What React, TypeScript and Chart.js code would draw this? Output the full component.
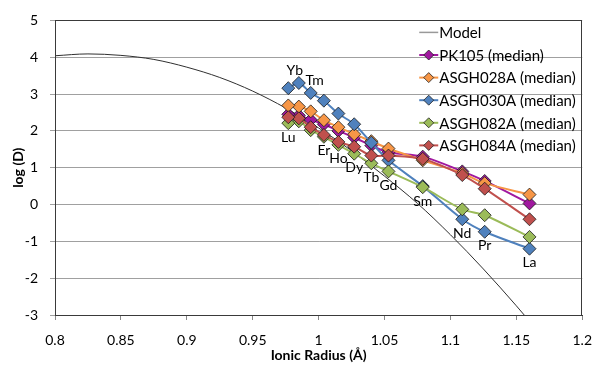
import React, { useEffect, useRef } from "react";
import { Chart, registerables } from "chart.js";
Chart.register(...registerables);

// Ionic radii (Å) of the plotted REE and their labels
const elements = ["La", "Pr", "Nd", "Sm", "Gd", "Tb", "Dy", "Ho", "Er", "Tm", "Yb", "Lu"];
const ionicRadius = [1.16, 1.126, 1.109, 1.079, 1.053, 1.04, 1.027, 1.015, 1.004, 0.994, 0.985, 0.977];

// log(D) median values per sample
const pk105 = [0.03, 0.64, 0.9, 1.3, 1.42, 1.6, 1.82, 2.0, 2.18, 2.3, 2.42, 2.45];
const asgh028a = [0.27, 0.58, 0.85, 1.2, 1.52, 1.72, 1.91, 2.1, 2.29, 2.53, 2.66, 2.69];
const asgh030a = [-1.2, -0.74, -0.4, 0.5, 1.2, 1.68, 2.18, 2.47, 2.82, 3.03, 3.3, 3.16];
const asgh082a = [-0.88, -0.29, -0.13, 0.47, 0.9, 1.12, 1.38, 1.62, 1.84, 2.02, 2.26, 2.21];
const asgh084a = [-0.4, 0.43, 0.8, 1.24, 1.33, 1.33, 1.57, 1.7, 1.89, 2.1, 2.34, 2.37];

// Model curve
const modelRadius = [0.8, 0.825, 0.85, 0.875, 0.9, 0.925, 0.95, 0.975, 1.0, 1.025, 1.05, 1.075, 1.1, 1.125, 1.15, 1.175];
const modelLogD = [4.04, 4.09, 4.05, 3.94, 3.73, 3.45, 3.08, 2.62, 2.08, 1.46, 0.77, 0.03, -0.82, -1.75, -2.75, -3.8];

const xTicks = [0.8, 0.85, 0.9, 0.95, 1, 1.05, 1.1, 1.15, 1.2];
const yTicks = [-3, -2, -1, 0, 1, 2, 3, 4, 5];

const seriesNames = ["Model", "PK105 (median)", "ASGH028A (median)", "ASGH030A (median)", "ASGH082A (median)", "ASGH084A (median)"];
const seriesColors = ["#404040", "#A0189F", "#F79646", "#4F81BD", "#9BBB59", "#C0504D"];
const seriesValues = [pk105, asgh028a, asgh030a, asgh082a, asgh084a];

const FONT = "Lato, 'Open Sans', sans-serif";

const overlayPlugin = {
  id: "overlay",
  afterDatasetsDraw(chart: any) {
    const ctx = chart.ctx;
    const xs = chart.scales.x;
    const ys = chart.scales.y;
    const area = chart.chartArea;
    ctx.save();
    // plot border
    ctx.strokeStyle = "#3a3a3a";
    ctx.lineWidth = 1;
    ctx.strokeRect(Math.round(area.left) + 0.5, Math.round(area.top) + 0.5, Math.round(area.right - area.left) - 1, Math.round(area.bottom - area.top));

    // element labels
    ctx.fillStyle = "#000";
    ctx.font = `14px ${FONT}`;
    ctx.textAlign = "center";
    ctx.textBaseline = "middle";
    elements.forEach((el, i) => {
      const px = xs.getPixelForValue(ionicRadius[i]);
      if (el === "Yb") {
        ctx.fillText(el, px - 4, ys.getPixelForValue(asgh030a[i]) - 13);
      } else if (el === "Tm") {
        ctx.fillText(el, px + 4, ys.getPixelForValue(asgh030a[i]) - 12);
      } else {
        const minV = Math.min(...seriesValues.map((s) => s[i]));
        ctx.fillText(el, px, ys.getPixelForValue(minV) + 14);
      }
    });

    // legend
    const lx = area.right - 165;
    const ly0 = area.top + 12;
    const step = 22.6;
    ctx.font = `15px ${FONT}`;
    ctx.textAlign = "left";
    seriesNames.forEach((name, i) => {
      const y = ly0 + i * step;
      ctx.strokeStyle = i === 0 ? "#999" : seriesColors[i];
      ctx.lineWidth = i === 0 ? 1.5 : 2;
      ctx.beginPath();
      ctx.moveTo(lx + 2, y);
      ctx.lineTo(lx + 21, y);
      ctx.stroke();
      if (i > 0) {
        ctx.fillStyle = seriesColors[i];
        ctx.strokeStyle = "#222";
        ctx.lineWidth = 0.8;
        const r = 5;
        const cx = lx + 11.5;
        ctx.beginPath();
        ctx.moveTo(cx, y - r);
        ctx.lineTo(cx + r, y);
        ctx.lineTo(cx, y + r);
        ctx.lineTo(cx - r, y);
        ctx.closePath();
        ctx.fill();
        ctx.stroke();
      }
      ctx.fillStyle = "#000";
      ctx.fillText(name, lx + 22, y + 1);
    });
    ctx.restore();
  },
};

export default function App() {
  const ref = useRef<HTMLCanvasElement | null>(null);
  useEffect(() => {
    if (!ref.current) return;
    const mk = (vals: number[], i: number) => ({
      label: seriesNames[i],
      data: ionicRadius.map((r, k) => ({ x: r, y: vals[k] })),
      borderColor: seriesColors[i],
      backgroundColor: seriesColors[i],
      borderWidth: 2,
      pointStyle: "rectRot",
      pointRadius: 6.5,
      pointBorderColor: "#1a1a1a",
      pointBorderWidth: 0.8,
      pointBackgroundColor: seriesColors[i],
      tension: 0.3,
      order: 5 - i,
    });
    const chart = new Chart(ref.current, {
      type: "line",
      data: {
        datasets: [
          {
            label: "Model",
            data: modelRadius.map((r, k) => ({ x: r, y: modelLogD[k] })),
            borderColor: "#303030",
            borderWidth: 1,
            pointRadius: 0,
            cubicInterpolationMode: "monotone",
            order: 6,
          } as any,
          mk(pk105, 1),
          mk(asgh028a, 2),
          mk(asgh030a, 3),
          mk(asgh082a, 4),
          mk(asgh084a, 5),
        ],
      },
      options: {
        animation: false,
        responsive: true,
        maintainAspectRatio: false,
        layout: { padding: { top: 14, right: 18, left: 0, bottom: 0 } },
        plugins: { legend: { display: false }, tooltip: { enabled: false } },
        scales: {
          x: {
            type: "linear",
            min: 0.8,
            max: 1.2,
            afterBuildTicks: (axis: any) => {
              axis.ticks = xTicks.map((v) => ({ value: v }));
            },
            afterFit: (axis: any) => {
              axis.height = 55;
            },
            grid: { drawOnChartArea: false, drawTicks: true, tickLength: 5, color: "#888" },
            border: { display: true, color: "#3a3a3a" },
            ticks: {
              color: "#000",
              font: { family: FONT, size: 14 },
              padding: 12,
              maxRotation: 0,
              callback: (v: any) => String(Number(Number(v).toFixed(2))),
            },
            title: {
              display: true,
              text: "Ionic Radius (Å)",
              color: "#000",
              font: { family: FONT, size: 14, weight: "bold" },
              padding: { top: 0, bottom: 6 },
            },
          },
          y: {
            type: "linear",
            min: -3,
            max: 5,
            afterBuildTicks: (axis: any) => {
              axis.ticks = yTicks.map((v) => ({ value: v }));
            },
            afterFit: (axis: any) => {
              axis.width = 55;
            },
            grid: { color: "#a0a0a0", tickLength: 5, lineWidth: 1 },
            border: { display: true, color: "#3a3a3a" },
            ticks: { color: "#000", font: { family: FONT, size: 14 }, padding: 12 },
            title: {
              display: true,
              text: "log (D)",
              color: "#000",
              font: { family: FONT, size: 14, weight: "bold" },
              padding: { top: 10, bottom: 0 },
            },
          },
        },
      } as any,
      plugins: [overlayPlugin],
    });
    return () => chart.destroy();
  }, []);
  return (
    <div style={{ position: "absolute", left: 0, top: 0, width: 604, height: 370, background: "#fff" }}>
      <canvas ref={ref} />
    </div>
  );
}
